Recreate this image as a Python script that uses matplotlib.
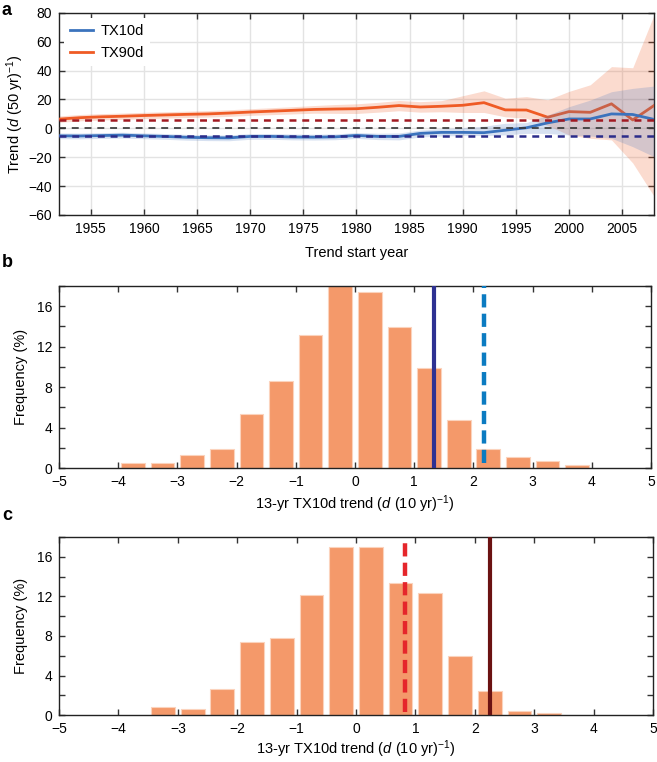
import numpy as np
import matplotlib
matplotlib.use("Agg")
import matplotlib.pyplot as plt

plt.rcParams['font.family'] = ['Liberation Sans', 'DejaVu Sans']
plt.rcParams['mathtext.fontset'] = 'custom'
plt.rcParams['mathtext.rm'] = 'Liberation Sans'
plt.rcParams['mathtext.it'] = 'Liberation Sans:italic'
plt.rcParams['lines.scale_dashes'] = False
plt.rcParams['font.size'] = 10

# ---------------- data: panel a ----------------
years = [1952, 1954, 1956, 1958, 1960, 1962, 1964, 1966, 1968, 1970, 1972, 1974, 1976, 1978,
         1980, 1982, 1984, 1986, 1988, 1990, 1992, 1994, 1996, 1998, 2000, 2002, 2004, 2006, 2008]
tx10 = [-5.2, -5.3, -5.0, -4.7, -5.2, -5.6, -6.2, -6.5, -6.6, -5.6, -5.6, -6.0, -6.1, -5.9,
        -4.9, -5.6, -5.6, -3.5, -2.8, -2.8, -3.0, -1.3, 0.4, 3.8, 6.5, 6.5, 10.0, 9.6, 6.2]
tx10_hi = [-3.2, -3.3, -3.0, -2.7, -3.2, -3.6, -4.2, -4.5, -4.6, -3.6, -3.6, -4.0, -4.1, -3.9,
           -2.9, -3.4, -3.2, -1.2, -0.3, 0.5, 1.5, 3.5, 4.0, 9.2, 15.0, 19.6, 25.4, 27.7, 29.3]
tx10_lo = [-7.2, -7.3, -7.0, -6.7, -7.2, -7.6, -8.2, -8.5, -8.6, -7.6, -7.6, -8.0, -8.1, -7.9,
           -7.0, -7.8, -8.0, -6.0, -5.3, -5.0, -5.0, -4.5, -3.5, -3.5, -4.6, -5.3, -6.9, -12.7, -19.6]
tx90 = [6.4, 7.4, 8.0, 8.4, 8.9, 9.3, 9.7, 10.0, 10.6, 11.3, 11.9, 12.5, 13.1, 13.4,
        13.6, 14.6, 15.8, 14.8, 15.3, 16.0, 17.8, 12.8, 12.7, 7.7, 11.6, 11.1, 17.0, 5.8, 15.8]
tx90_hi = [8.6, 9.6, 10.2, 10.6, 11.1, 11.5, 11.9, 12.3, 12.9, 13.6, 14.3, 15.0, 15.8, 16.5,
           17.0, 18.0, 19.3, 18.5, 19.2, 22.6, 26.0, 20.9, 22.0, 19.8, 25.6, 30.2, 42.8, 42.0, 78.5]
tx90_lo = [4.2, 5.2, 5.8, 6.2, 6.7, 7.1, 7.5, 7.8, 8.3, 9.0, 9.5, 10.0, 10.5, 10.4,
           10.3, 11.2, 12.2, 11.2, 11.5, 11.0, 11.0, 8.0, 7.0, 2.0, -4.6, -6.9, -8.0, -24.0, -47.0]
ref_tx90 = 6.0
ref_zero = 0.0
ref_tx10 = -5.0

# ---------------- data: panel b ----------------
centers_b = [-3.75, -3.25, -2.75, -2.25, -1.75, -1.25, -0.75, -0.25,
             0.25, 0.75, 1.25, 1.75, 2.25, 2.75, 3.25, 3.75]
freq_b = [0.45, 0.45, 1.25, 1.9, 5.35, 8.6, 13.15, 18.0,
          17.45, 13.95, 9.9, 4.75, 1.9, 1.05, 0.65, 0.25]
obs_b = 1.34
model_b = 2.18

# ---------------- data: panel c ----------------
centers_c = [-3.25, -2.75, -2.25, -1.75, -1.25, -0.75, -0.25,
             0.25, 0.75, 1.25, 1.75, 2.25, 2.75, 3.25]
freq_c = [0.83, 0.63, 2.68, 7.42, 7.81, 12.15, 17.0,
          17.0, 13.3, 12.3, 5.96, 2.48, 0.43, 0.23]
dashed_c = 0.83
solid_c = 2.25

BLUE = '#3b73bd'
ORANGE = '#ef5b25'
BAR = '#f4996a'
BAR_EDGE = '#fbd3bd'
TICKC = '#333333'

fig = plt.figure(figsize=(6.57, 7.62), dpi=100)

def style_axes(ax):
    for s in ax.spines.values():
        s.set_color('#222222')
        s.set_linewidth(1.0)
    ax.tick_params(direction='in', top=True, right=True, length=4, width=1,
                   color=TICKC, labelsize=10, pad=5)

# ---------------- panel a ----------------
axa = fig.add_axes([0.0898, 0.718, 0.9056, 0.265])
axa.fill_between(years, tx90_lo, tx90_hi, color=ORANGE, alpha=0.22, lw=0, zorder=2)
axa.plot(years, tx90, color=ORANGE, lw=2.0, zorder=3, label='TX90d')
axa.fill_between(years, tx10_lo, tx10_hi, color='#4a78c0', alpha=0.22, lw=0, zorder=4)
axa.plot(years, tx10, color=BLUE, lw=2.0, zorder=5, label='TX10d')
axa.axhline(ref_tx90, color='#a11a22', lw=1.8, dashes=(5, 4.2), zorder=6)
axa.axhline(ref_zero, color='#333333', lw=1.2, dashes=(5, 4.2), zorder=6)
axa.axhline(ref_tx10, color='#2b2c8a', lw=1.8, dashes=(5, 4.2), zorder=6)
axa.set_xlim(1952, 2008)
axa.set_ylim(-60, 80)
axa.set_xticks(np.arange(1955, 2006, 5))
axa.set_yticks(np.arange(-60, 81, 20))
axa.grid(True, color='#e3e3e3', lw=1.0, zorder=0)
axa.set_axisbelow(True)
style_axes(axa)
axa.set_xlabel('Trend start year', fontsize=10.5, labelpad=7)
axa.set_ylabel(r'Trend ($\mathit{d}$ (50 yr)$^{-1}$)', fontsize=10.5, labelpad=2)
h, l = axa.get_legend_handles_labels()
leg = axa.legend([h[1], h[0]], [l[1], l[0]], loc='upper left', frameon=True,
                 fontsize=10.5, handlelength=1.6, handletextpad=0.5,
                 borderaxespad=0.35, labelspacing=0.55, fancybox=False)
leg.get_frame().set_edgecolor('none')
leg.get_frame().set_facecolor('white')
leg.get_frame().set_alpha(1.0)

# ---------------- histograms ----------------
def hist_panel(rect, centers, freq, lpad=3):
    ax = fig.add_axes(rect)
    ax.bar(centers, freq, width=0.4, color=BAR, edgecolor=BAR_EDGE, linewidth=0.8, zorder=2)
    ax.set_xlim(-5, 5)
    ax.set_ylim(0, 18)
    ax.set_xticks(np.arange(-5, 6, 1))
    ax.set_yticks(np.arange(0, 19, 2))
    ax.set_yticklabels([str(v) if v % 4 == 0 else '' for v in range(0, 19, 2)])
    style_axes(ax)
    ax.set_xlabel(r'13-yr TX10d trend ($\mathit{d}$ (10 yr)$^{-1}$)', fontsize=10.5, labelpad=lpad)
    ax.set_ylabel('Frequency (%)', fontsize=10.5, labelpad=6)
    return ax

axb = hist_panel([0.0898, 0.3858, 0.9012, 0.2389], centers_b, freq_b)
axb.axvline(obs_b, color='#2e3192', lw=3.0, zorder=4)
axb.axvline(model_b, ymin=0.03, ymax=1.0, color='#0b7bc1', lw=3.2, dashes=(9.5, 4.5), zorder=4)

axc = hist_panel([0.0898, 0.0615, 0.9042, 0.2338], centers_c, freq_c, lpad=2)
axc.axvline(dashed_c, ymin=0.02, ymax=1.0, color='#e5262b', lw=3.2, dashes=(9.5, 4.5), zorder=4)
axc.axvline(solid_c, color='#6b1212', lw=3.0, zorder=4)

# panel letters
fig.text(0.003, 0.986, 'a', fontsize=13, fontweight='bold', va='center', ha='left')
fig.text(0.003, 0.656, 'b', fontsize=13, fontweight='bold', va='center', ha='left')
fig.text(0.003, 0.324, 'c', fontsize=13, fontweight='bold', va='center', ha='left')

fig.savefig('out.png', dpi=100)
